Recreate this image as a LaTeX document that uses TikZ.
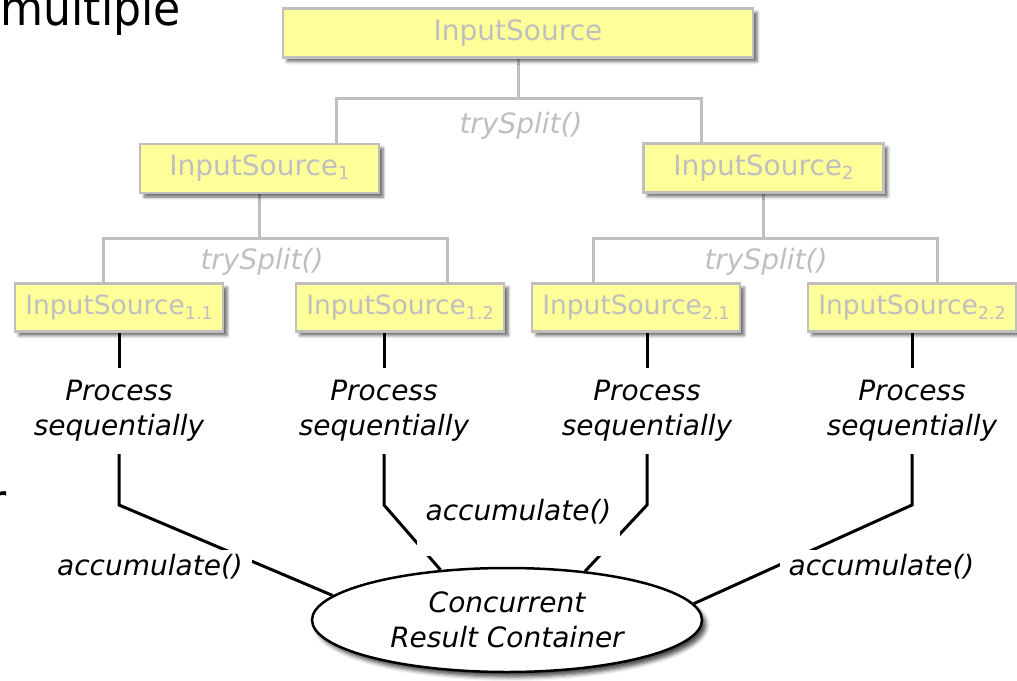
\documentclass[tikz,border=0pt]{standalone}
\usepackage{fontspec}
\setmainfont{DejaVu Sans}
\usetikzlibrary{shapes.geometric,shadows,shadows.blur}
\definecolor{lgray}{RGB}{191,191,191}
\definecolor{boxyellow}{RGB}{255,255,153}
\newcommand{\mysub}[1]{\raisebox{-4pt}{\fontsize{18}{18}\selectfont #1}}
\newcommand{\mysubb}[1]{\raisebox{-4.5pt}{\fontsize{17.5}{18}\selectfont #1}}
\begin{document}
\begin{tikzpicture}[x=1pt,y=-1pt,
  srcbox/.style={draw=lgray, line width=2.5pt, fill=boxyellow, text=lgray, inner sep=0pt,
    minimum height=49pt, font=\fontsize{28}{34}\selectfont,
    blur shadow={shadow xshift=4pt, shadow yshift=-4pt, shadow blur radius=3pt, shadow opacity=60}},
  leafbox/.style={srcbox, minimum width=208pt, minimum height=48pt, font=\fontsize{26.5}{32}\selectfont},
  splitline/.style={draw=lgray, line width=3pt},
  splitlabel/.style={text=lgray, font=\fontsize{28}{34}\selectfont\itshape, inner sep=0pt},
  flowline/.style={draw=black, line width=3pt},
  proclabel/.style={align=center, font=\fontsize{28}{35}\selectfont\itshape, inner sep=0pt, minimum height=86pt},
  acclabel/.style={fill=white, font=\fontsize{28}{34}\selectfont\itshape, inner xsep=9pt, inner ysep=5pt},
  container/.style={ellipse, draw=black, line width=2.5pt, fill=white, minimum width=390pt,
    minimum height=104pt, inner sep=0pt, align=center, font=\fontsize{28}{35}\selectfont\itshape,
    blur shadow={shadow xshift=4pt, shadow yshift=-5pt, shadow blur radius=4pt, shadow opacity=70}},
  fragment/.style={inner sep=0pt, font=\fontsize{48}{48}\selectfont}
]
\useasboundingbox (0,0) rectangle (1017,680);

% slide text fragments
\node[fragment, anchor=base east] (frag1) at (181,25) {\scalebox{0.92}[1]{multiple}};
\node[fragment, anchor=base west] (frag2) at (-12,518) {\scalebox{0.92}[1]{r}};

% split tree coordinates
\coordinate (j0) at (518,98);
\coordinate (j0l) at (336,98);
\coordinate (j0r) at (701,98);
\coordinate (j1) at (259.5,238);
\coordinate (j1l) at (103,238);
\coordinate (j1r) at (447,238);
\coordinate (j2) at (763.5,238);
\coordinate (j2l) at (593,238);
\coordinate (j2r) at (937,238);

% gray connectors (behind boxes)
\draw[splitline] (518,57) -- (j0);
\draw[splitline] (336,145) -- (j0l) -- (j0r) -- (701,145);
\draw[splitline] (259.5,193) -- (j1);
\draw[splitline] (103,284) -- (j1l) -- (j1r) -- (447,284);
\draw[splitline] (763.5,193) -- (j2);
\draw[splitline] (593,284) -- (j2l) -- (j2r) -- (937,284);

% source boxes
\node[srcbox, minimum width=470pt] (src) at (518,33) {InputSource};
\node[srcbox, minimum width=239pt] (s1) at (259.5,168.5) {InputSource\mysub{1}};
\node[srcbox, minimum width=240pt] (s2) at (763.5,168) {InputSource\mysub{2}};
\node[leafbox] (s11) at (119,307.5) {InputSource\mysubb{1.1}};
\node[leafbox] (s12) at (400,307.5) {InputSource\mysubb{1.2}};
\node[leafbox] (s21) at (636,307.5) {InputSource\mysubb{2.1}};
\node[leafbox] (s22) at (912,307.5) {InputSource\mysubb{2.2}};

% split labels
\node[splitlabel] (t0) at (521,126) {trySplit()};
\node[splitlabel] (t1) at (262,262) {trySplit()};
\node[splitlabel] (t2) at (766,262) {trySplit()};

% processing labels
\node[proclabel] (p11) at (119,411) {Process\\sequentially};
\node[proclabel] (p12) at (384,411) {Process\\sequentially};
\node[proclabel] (p21) at (647,411) {Process\\sequentially};
\node[proclabel] (p22) at (912,411) {Process\\sequentially};

% result container
\node[container] (crc) at (507,620) {Concurrent\\Result Container};

% bends
\coordinate (k11) at (119,505);
\coordinate (k12) at (384,505);
\coordinate (k21) at (647,505);
\coordinate (k22) at (912,505);

% black connectors
\draw[flowline] (s11.south -| p11) -- (p11.north);
\draw[flowline] (s12.south -| p12) -- (p12.north);
\draw[flowline] (s21.south -| p21) -- (p21.north);
\draw[flowline] (s22.south -| p22) -- (p22.north);
\draw[flowline] (p11.south) -- (k11) -- (crc.172);
\draw[flowline] (p12.south) -- (k12) -- (crc.143);
\draw[flowline] (p21.south) -- (k21) -- (crc.32);
\draw[flowline] (p22.south) -- (k22) -- (crc.5);

% accumulate labels (cover the connectors)
\node[acclabel] (acc1) at (150,567) {accumulate()};
\node[acclabel, minimum height=88pt, inner xsep=8.5pt] (acc2) at (518.5,512) {accumulate()};
\node[acclabel] (acc3) at (881.5,567) {accumulate()};
\end{tikzpicture}
\end{document}
